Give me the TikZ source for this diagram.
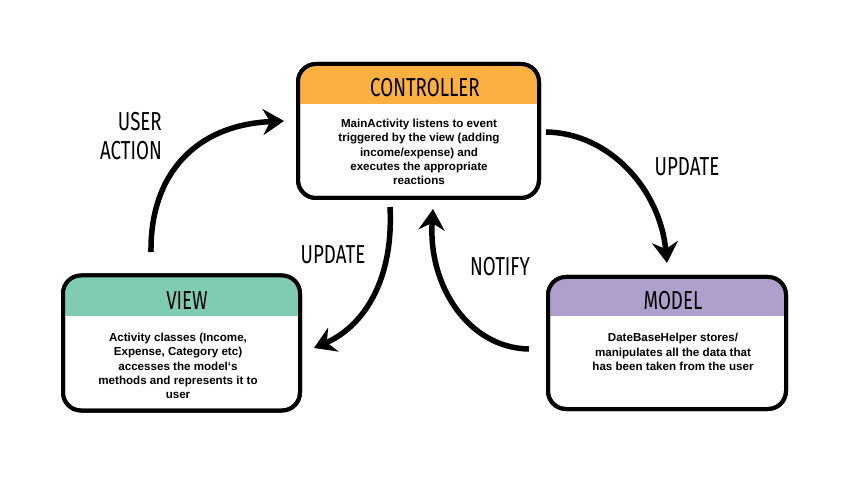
\documentclass[tikz,border=0pt]{standalone}
\usepackage{fontspec}
\setmainfont{Liberation Sans}
\newfontfamily\hand[FakeStretch=0.72]{Fira Sans}
\usetikzlibrary{arrows.meta}
\definecolor{ctrlc}{HTML}{FBB040}
\definecolor{viewc}{HTML}{7FCBB4}
\definecolor{modelc}{HTML}{AE9FCC}
\begin{document}
\begin{tikzpicture}[x=1pt,y=-1pt,
  box/.style={draw=black, line width=4pt, rounded corners=18pt, fill=white, outer sep=0pt, inner sep=0pt},
  border/.style={draw=black, line width=4pt, rounded corners=18pt},
  head/.style={font=\hand\fontsize{26}{26}\selectfont, inner sep=0pt},
  body/.style={font=\bfseries\fontsize{11.6}{14.4}\selectfont, align=center, inner sep=0pt},
  lbl/.style={font=\hand\fontsize{26}{29}\selectfont, inner sep=0pt},
  flow/.style={line width=5.5pt, -{Stealth[length=21pt,width=26pt,inset=7pt]}}]
\useasboundingbox (0,0) rectangle (843,494);

% Controller
\node[box, minimum width=241pt, minimum height=134pt] (ctrl) at (418.5,131) {};
\begin{scope}
  \clip[rounded corners=18pt] (ctrl.north west) rectangle (ctrl.south east);
  \fill[ctrlc] (ctrl.north west) rectangle (ctrl.east |- 0,104);
\end{scope}
\draw[border] (ctrl.north west) rectangle (ctrl.south east);
\node[head] (ctrlh) at (425,88) {CONTROLLER};
\node[body] (ctrlb) at (419,152) {MainActivity listens to event\\triggered by the view (adding\\income/expense) and\\executes the appropriate\\reactions};

% View
\node[box, minimum width=237pt, minimum height=135pt] (view) at (181.5,343) {};
\begin{scope}
  \clip[rounded corners=18pt] (view.north west) rectangle (view.south east);
  \fill[viewc] (view.north west) rectangle (view.east |- 0,316);
\end{scope}
\draw[border] (view.north west) rectangle (view.south east);
\node[head] (viewh) at (187,301) {VIEW};
\node[body] (viewb) at (178,366) {Activity classes (Income,\\Expense, Category etc)\\accesses the model‘s\\methods and represents it to\\user};

% Model
\node[box, minimum width=238pt, minimum height=132pt] (model) at (667,343) {};
\begin{scope}
  \clip[rounded corners=18pt] (model.north west) rectangle (model.south east);
  \fill[modelc] (model.north west) rectangle (model.east |- 0,316);
\end{scope}
\draw[border] (model.north west) rectangle (model.south east);
\node[head] (modelh) at (673,301) {MODEL};
\node[body] (modelb) at (673,352) {DateBaseHelper stores/\\manipulates all the data that\\has been taken from the user};

% Labels
\node[lbl, align=right, anchor=east] (ua) at (162,136) {USER\\ACTION};
\node[lbl] (upr) at (687,167) {UPDATE};
\node[lbl] (upl) at (333,255) {UPDATE};
\node[lbl] (nt) at (500,267) {NOTIFY};

% Connector endpoints
\coordinate (uas) at (151,252);
\coordinate (uae) at (284,121);
\coordinate (urs) at (546,132);
\coordinate (ure) at (667,263);
\coordinate (uls) at (390,207);
\coordinate (ule) at (314,348);
\coordinate (ns) at (529,349);
\coordinate (ne) at (433,209);

\draw[flow] (uas) .. controls (150,175) and (195,125) .. (uae);
\draw[flow] (urs) .. controls (610,133) and (660,190) .. (ure);
\draw[flow] (uls) .. controls (394,285) and (360,328) .. (ule);
\draw[flow] (ns) .. controls (468,348) and (428,285) .. (ne);
\end{tikzpicture}
\end{document}
